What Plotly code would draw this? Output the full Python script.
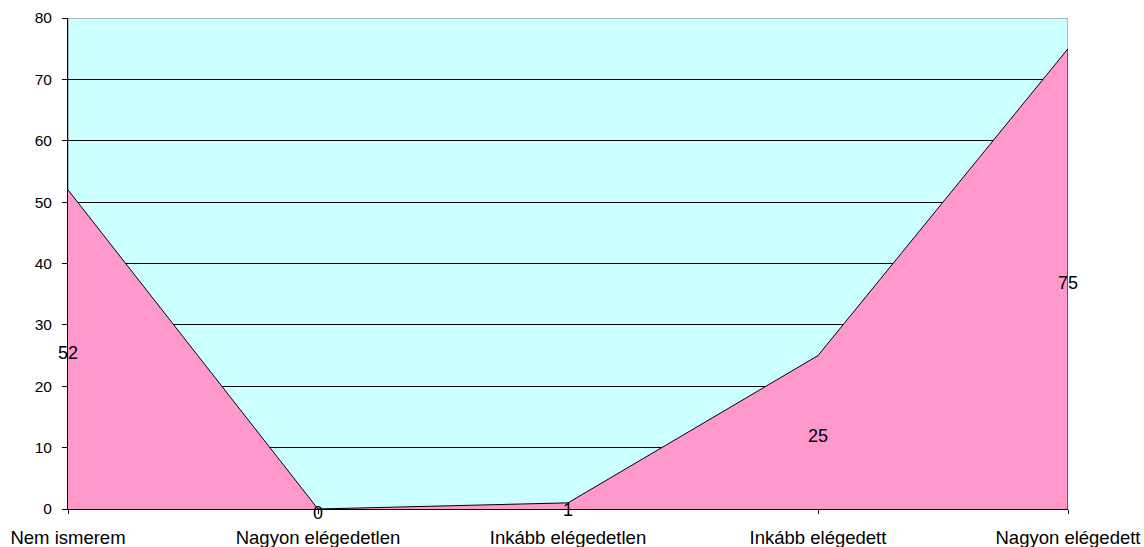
import plotly.graph_objects as go

categories = ["Nem ismerem", "Nagyon elégedetlen", "Inkább elégedetlen", "Inkább elégedett", "Nagyon elégedett"]
values = [52, 0, 1, 25, 75]
y_ticks = [0, 10, 20, 30, 40, 50, 60, 70, 80]

xs = list(range(len(categories)))
fam = "Liberation Sans, Arial, sans-serif"
xfont = dict(family=fam, size=18.5, color="#000000")
yfont = dict(family=fam, size=15.5, color="#000000")
lblfont = dict(family=fam, size=18, color="#000000")

fig = go.Figure()
# plot area frame (gray)
fig.add_shape(type="rect", xref="x", yref="y", x0=xs[0], x1=xs[-1], y0=y_ticks[0], y1=y_ticks[-1],
              line=dict(color="#808080", width=1), fillcolor="rgba(0,0,0,0)", layer="below")
fig.add_trace(go.Scatter(x=xs, y=values, mode="lines", fill="tozeroy",
                         fillcolor="#FF99CC", line=dict(color="#000000", width=1),
                         hoverinfo="skip", showlegend=False))
# vertical edge of the area
fig.add_trace(go.Scatter(x=[xs[-1], xs[-1]], y=[0, values[-1]], mode="lines",
                         line=dict(color="#000000", width=1), showlegend=False, hoverinfo="skip"))
# data labels at half height of the area
for xv, v in zip(xs, values):
    fig.add_annotation(x=xv, y=v / 2, text=str(v), showarrow=False, font=lblfont,
                       xanchor="center", yanchor="middle", yshift=-4)

fig.update_layout(
    width=1144, height=547,
    margin=dict(l=68, r=76, t=18, b=38),
    paper_bgcolor="#FFFFFF", plot_bgcolor="#CCFFFF",
    font=xfont,
)
fig.update_xaxes(range=[xs[0], xs[-1]], tickvals=xs, ticktext=categories, automargin=False,
                 showgrid=False, zeroline=False, showline=True, linecolor="#000000", linewidth=1,
                 ticks="outside", ticklen=4, tickcolor="#000000", tickfont=xfont,
                 ticklabelstandoff=8)
fig.update_yaxes(range=[y_ticks[0], y_ticks[-1]], tickvals=y_ticks, automargin=False,
                 showgrid=True, gridcolor="#000000", gridwidth=1, zeroline=False,
                 showline=True, linecolor="#000000", linewidth=1,
                 ticks="outside", ticklen=5, tickcolor="#000000", tickfont=yfont,
                 ticklabelstandoff=7)

fig.write_html("out.html", config={"displayModeBar": False},
               post_script="document.body.style.margin='0';document.body.style.overflow='hidden';")
